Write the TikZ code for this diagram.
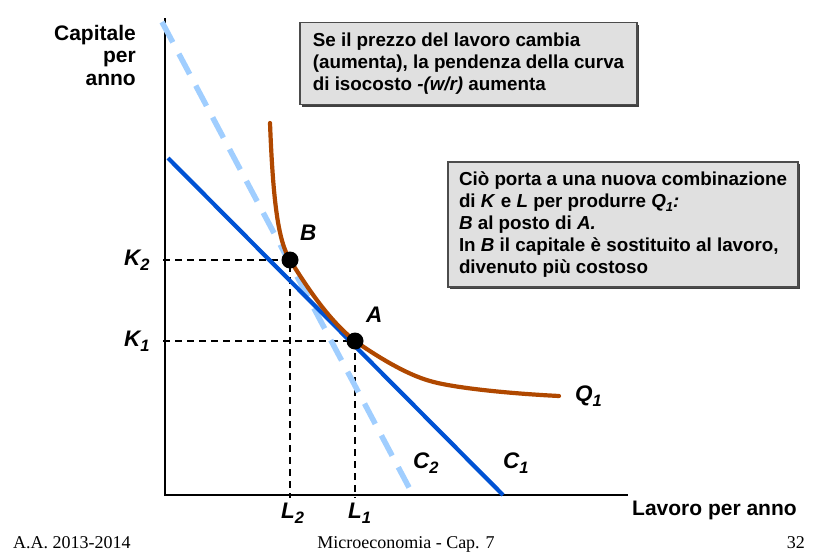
\documentclass[tikz,border=0pt]{standalone}
\usepackage{fontspec}
\setmainfont{Liberation Sans}
\newfontfamily\footfont{Liberation Serif}
\usetikzlibrary{shadows}
\definecolor{qbrown}{RGB}{176,72,0}
\definecolor{cblue}{RGB}{0,82,212}
\definecolor{lblue}{RGB}{160,206,255}
\definecolor{boxgray}{RGB}{224,224,224}
\newcommand\bigsub[1]{\raisebox{-5.5pt}{\fontsize{16.5}{16.5}\selectfont #1}}
\newcommand\boxsub[1]{\raisebox{-4pt}{\fontsize{13}{13}\selectfont #1}}
\tikzset{
  axislab/.style={font=\bfseries\fontsize{21}{22.5}\selectfont, inner sep=0pt},
  ptlab/.style={font=\bfseries\itshape\fontsize{22.5}{24}\selectfont, inner sep=0pt},
  footlab/.style={font=\footfont\fontsize{18}{20}\selectfont, inner sep=0pt},
  infobox/.style={draw=black!70, line width=1.2pt, fill=boxgray, align=left,
    font=\bfseries\fontsize{18.8}{22}\selectfont, inner xsep=6pt, inner ysep=0pt,
    drop shadow={shadow xshift=2pt, shadow yshift=-2pt, opacity=0.75, fill=black}},
  axisline/.style={line width=2.4pt},
  guide/.style={line width=1.9pt, dash pattern=on 7pt off 5pt},
  dot/.style={circle, fill=black, inner sep=0pt, minimum size=17pt}
}
\begin{document}
\begin{tikzpicture}[x=1pt,y=-1pt]
\useasboundingbox (0,0) rectangle (814,554);
% axes
\coordinate (O) at (165,495);
\coordinate (Ytop) at (165,18);
\coordinate (Xend) at (628,495);
\draw[axisline] (Ytop) -- (O) -- (Xend);
% points
\coordinate (Bp) at (290,260);
\coordinate (Ap) at (355,341);
\coordinate (K2a) at (163,260);
\coordinate (K1a) at (163,341);
\coordinate (L2a) at (290,498);
\coordinate (L1a) at (355,498);
% guide lines
\draw[guide] (K2a) -- (Bp) -- (L2a);
\draw[guide] (K1a) -- (Ap) -- (L1a);
% isocost lines
\coordinate (C2s) at (162,22);
\coordinate (C2e) at (413,495);
\coordinate (C1s) at (168,158);
\coordinate (C1e) at (503,495);
\draw[lblue, line width=5.5pt, dash pattern=on 23pt off 13pt] (C2s) -- (C2e);
\draw[cblue, line width=4.2pt] (C1s) -- (C1e);
% isoquant
\coordinate (Qs) at (270,123);
\coordinate (Qm) at (430,381);
\coordinate (Qe) at (559,396);
\draw[qbrown, line width=4.2pt, line cap=round]
  (Qs) .. controls (273,200) and (278,241) .. (Bp)
       .. controls (310,292) and (330,321) .. (Ap)
       .. controls (375,355) and (405,374) .. (Qm)
       .. controls (450,387) and (500,393) .. (Qe);
% dots
\node[dot] (B) at (Bp) {};
\node[dot] (A) at (Ap) {};
% point labels
\node[ptlab, anchor=base west] (Blab) at (300,240) {B};
\node[ptlab, anchor=base west] (Alab) at (366,322) {A};
\node[ptlab, anchor=base west] (K2lab) at (124,265) {K\bigsub{2}};
\node[ptlab, anchor=base west] (K1lab) at (124,346) {K\bigsub{1}};
\node[ptlab, anchor=base west] (L2lab) at (281,518) {L\bigsub{2}};
\node[ptlab, anchor=base west] (L1lab) at (348,518) {L\bigsub{1}};
\node[ptlab, anchor=base west] (Q1lab) at (575,401) {Q\bigsub{1}};
\node[ptlab, anchor=base west] (C2lab) at (413,468) {C\bigsub{2}};
\node[ptlab, anchor=base west] (C1lab) at (503,468) {C\bigsub{1}};
% axis labels
\node[axislab, align=right, anchor=north east] (ylab) at (136,25) {Capitale\\per\\anno};
\node[axislab, anchor=base west] (xlab) at (632,515) {Lavoro per anno};
% boxes
\node[infobox, minimum width=337pt, minimum height=82pt] (box1) at (468.5,63.5)
 {Se il prezzo del lavoro cambia\\(aumenta), la pendenza della curva\\di isocosto \textit{-(w/r)} aumenta};
\node[infobox, minimum width=350pt, minimum height=125pt] (box2) at (623,224.5)
 {Ciò porta a una nuova combinazione\\di \textit{K} e \textit{L} per produrre \textit{Q\boxsub{1}:}\\\textit{B} al posto di \textit{A.}\\In \textit{B} il capitale è sostituito al lavoro,\\divenuto più costoso};
% footer
\node[footlab, anchor=base west] (f1) at (13,548) {A.A. 2013-2014};
\node[footlab, anchor=base] (f2) at (406,548) {Microeconomia - Cap. 7};
\node[footlab, anchor=base east] (f3) at (805,548) {32};
\end{tikzpicture}
\end{document}
